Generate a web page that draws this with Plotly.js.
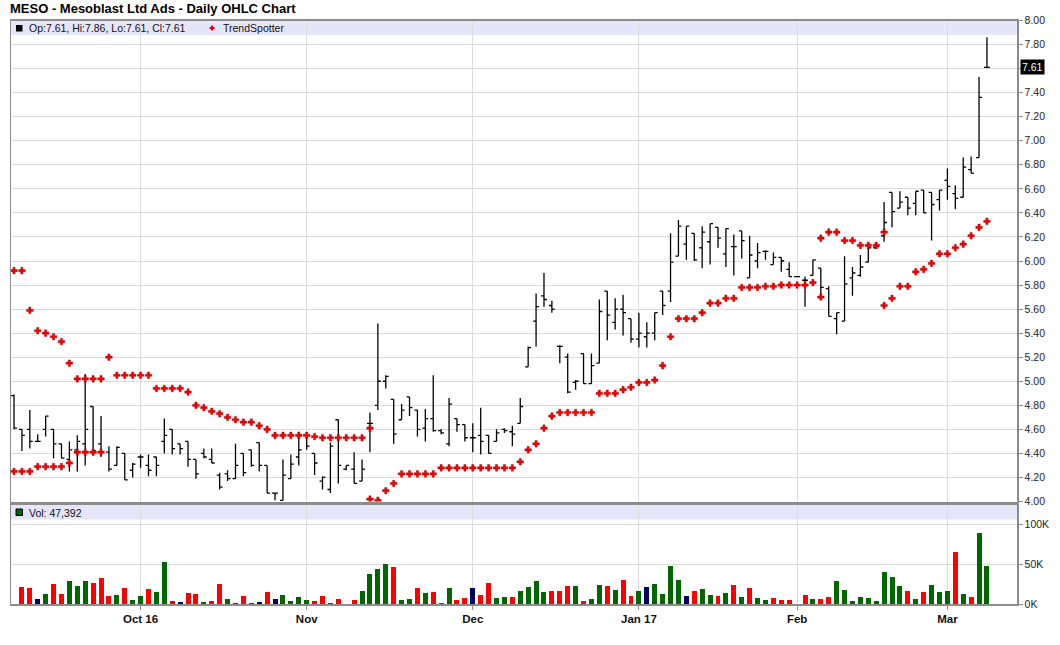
<!DOCTYPE html>
<html><head><meta charset="utf-8">
<script src="https://cdn.plot.ly/plotly-3.0.1.min.js"></script>
<style>html,body{margin:0;padding:0;background:#fff}#chart{width:1060px;height:645px}</style>
</head><body><div id="chart"></div>
<script>
// ---- data (trading-day index 0 = 9 Sep 2016 ... 123 = 8 Mar 2017) ----
const tickIdx = [16, 37, 58, 79, 99, 118];
const tickLabels = ['Oct 16', 'Nov', 'Dec', 'Jan 17', 'Feb', 'Mar'];

const openP = [
4.88,4.60,4.60,4.50,4.60,4.60,4.48,4.35,4.43,4.48,
4.79,4.48,4.41,4.30,4.40,4.26,4.37,4.30,4.37,4.50,
4.60,4.48,4.50,4.35,4.40,4.35,4.22,4.23,4.19,4.40,
4.43,4.49,4.30,4.07,4.01,4.19,4.37,4.55,4.40,4.17,
4.10,4.68,4.27,4.27,4.17,4.65,4.80,5.00,4.85,4.68,
4.87,4.76,4.61,4.69,4.59,4.48,4.69,4.64,4.53,4.55,
4.55,4.50,4.60,4.58,4.65,5.12,5.50,5.71,5.63,5.29,
5.20,4.99,5.23,4.98,5.15,5.75,5.49,5.60,5.52,5.35,
5.37,5.40,5.75,5.75,6.04,6.14,6.23,6.11,6.16,6.28,
6.06,6.12,6.25,5.86,6.00,6.08,5.97,6.03,5.93,5.87,
5.84,5.88,5.94,5.77,5.52,5.50,5.86,5.88,5.99,6.11,
6.21,6.57,6.44,6.53,6.48,6.59,6.57,6.51,6.67,6.56,
6.53,6.76,6.86,7.61];
const highP = [
4.89,4.60,4.76,4.56,4.71,4.60,4.48,4.50,4.55,5.06,
4.79,4.71,4.46,4.46,4.40,4.32,4.39,4.39,4.37,4.69,
4.60,4.48,4.50,4.35,4.44,4.44,4.24,4.26,4.48,4.40,
4.43,4.49,4.30,4.07,4.35,4.39,4.58,4.56,4.40,4.21,
4.49,4.68,4.30,4.41,4.35,4.74,5.48,5.05,4.85,4.81,
4.87,4.76,4.77,5.05,4.60,4.86,4.69,4.64,4.65,4.78,
4.55,4.60,4.61,4.63,4.86,5.29,5.73,5.90,5.67,5.30,
5.23,5.01,5.23,5.23,5.68,5.75,5.69,5.72,5.52,5.57,
5.49,5.57,5.75,6.23,6.34,6.29,6.23,6.29,6.31,6.28,
6.27,6.22,6.25,6.21,6.15,6.09,6.07,6.03,5.99,5.87,
5.87,6.01,5.94,5.79,5.57,6.04,5.95,6.05,6.11,6.15,
6.49,6.57,6.58,6.53,6.58,6.59,6.57,6.59,6.77,6.63,
6.86,6.87,7.53,7.86];
const lowP = [
4.60,4.42,4.44,4.50,4.54,4.36,4.36,4.25,4.25,4.30,
4.40,4.37,4.25,4.30,4.18,4.20,4.28,4.21,4.21,4.40,
4.39,4.39,4.29,4.19,4.36,4.32,4.10,4.17,4.19,4.21,
4.29,4.25,4.07,4.01,4.01,4.19,4.30,4.43,4.22,4.10,
4.07,4.15,4.26,4.15,4.17,4.41,4.76,4.94,4.48,4.68,
4.71,4.54,4.50,4.58,4.56,4.46,4.58,4.50,4.41,4.39,
4.40,4.50,4.57,4.46,4.65,5.12,5.29,5.62,5.57,5.15,
4.90,4.93,4.98,4.98,5.15,5.34,5.43,5.38,5.32,5.28,
5.28,5.34,5.55,5.66,6.04,6.01,6.00,5.94,5.97,6.11,
5.95,5.88,6.02,5.86,5.94,6.01,5.97,5.91,5.87,5.87,
5.62,5.88,5.69,5.54,5.39,5.50,5.71,5.87,5.99,6.10,
6.16,6.28,6.44,6.38,6.38,6.40,6.17,6.42,6.51,6.43,
6.53,6.73,6.86,7.61];
const closeP = [
4.61,4.55,4.50,4.50,4.71,4.48,4.36,4.43,4.50,4.60,
4.42,4.41,4.27,4.45,4.18,4.31,4.37,4.26,4.30,4.55,
4.44,4.44,4.35,4.23,4.37,4.32,4.12,4.19,4.30,4.24,
4.30,4.30,4.07,4.07,4.22,4.31,4.43,4.46,4.32,4.20,
4.46,4.30,4.30,4.15,4.27,4.65,5.00,5.04,4.56,4.76,
4.78,4.60,4.69,4.59,4.57,4.81,4.64,4.53,4.53,4.50,
4.40,4.57,4.59,4.56,4.79,5.28,5.62,5.68,5.60,5.29,
4.91,5.00,4.98,5.13,5.58,5.55,5.60,5.57,5.35,5.40,
5.40,5.57,5.63,5.99,6.29,6.29,6.01,6.24,6.31,6.19,
6.27,6.12,6.17,6.05,6.07,6.08,6.03,6.00,5.87,5.87,
5.84,6.01,5.78,5.54,5.57,5.81,5.90,5.95,6.11,6.12,
6.32,6.41,6.49,6.44,6.58,6.40,6.47,6.59,6.62,6.52,
6.78,6.73,7.36,7.61];
const volume = [
null,20800,19600,6300,12100,25000,12500,28800,22500,28800,
26300,32500,10000,11300,20000,5000,10000,18800,15000,52500,
3800,2500,13800,12500,2500,3800,25000,6300,1300,10000,
1300,2500,15000,6300,11300,3800,8800,5000,3800,10000,
1300,6300,null,5000,16300,37500,43800,50000,46300,5000,
6300,20000,13800,15000,1300,20000,5000,7500,20000,11300,
26300,7500,8800,8800,16300,21300,28800,15000,16300,16300,
22500,22500,3800,6300,23800,22500,17500,30000,10000,16300,
21300,25000,12500,47500,30000,10000,16300,18800,11300,10000,
13800,23800,8800,20000,7500,5000,7500,5000,5000,null,
11300,6300,6300,8800,28800,17500,3800,8800,7500,3800,
40000,33800,22500,16300,6300,15000,23800,15000,16300,65000,
12500,8800,88800,47392];
const tsUpper = [
5.92,5.92,5.59,5.42,5.40,5.37,5.33,5.15,5.02,5.02,
5.02,5.02,5.20,5.05,5.05,5.05,5.05,5.05,4.94,4.94,
4.94,4.94,4.91,4.80,4.78,4.75,4.73,4.70,4.68,4.66,
4.66,4.63,4.60,4.55,4.55,4.55,4.55,4.55,4.54,4.53,
4.53,4.53,4.53,4.53,4.53,4.61,null,null,null,null,
null,null,null,null,null,null,null,null,null,null,
null,null,null,null,null,null,null,null,null,null,
null,null,null,null,null,null,null,null,null,null,
null,null,null,null,null,null,null,null,null,null,
null,null,null,null,null,null,null,null,null,null,
null,null,6.19,6.24,6.24,6.17,6.17,6.13,6.13,6.13,
6.24,null,null,null,null,null,null,null,null,null,
null,null,null,null];
const tsLower = [
4.25,4.25,4.25,4.29,4.29,4.29,4.29,4.32,4.41,4.41,
4.41,4.41,null,null,null,null,null,null,null,null,
null,null,null,null,null,null,null,null,null,null,
null,null,null,null,null,null,null,null,null,null,
null,null,null,null,null,4.02,4.01,4.09,4.15,4.23,
4.23,4.23,4.23,4.23,4.28,4.28,4.28,4.28,4.28,4.28,
4.28,4.28,4.28,4.28,4.33,4.43,4.48,4.61,4.71,4.74,
4.74,4.74,4.74,4.74,4.90,4.90,4.90,4.93,4.95,4.99,
4.99,5.01,5.13,5.37,5.52,5.52,5.52,5.57,5.65,5.65,
5.69,5.69,5.78,5.78,5.78,5.79,5.79,5.80,5.80,5.80,
5.80,5.82,5.70,null,null,null,null,null,null,null,
5.63,5.69,5.79,5.79,5.91,5.93,5.98,6.06,6.06,6.11,
6.14,6.21,6.28,6.33];
const priceTicks = [4.0,4.2,4.4,4.6,4.8,5.0,5.2,5.4,5.6,5.8,6.0,6.2,6.4,6.6,6.8,7.0,7.2,7.4,7.6,7.8,8.0];
const priceTickText = ['4.00','4.20','4.40','4.60','4.80','5.00','5.20','5.40','5.60','5.80','6.00','6.20','6.40','6.60','6.80','7.00','7.20','7.40','','7.80','8.00'];
const volTicks = [0, 50000, 100000];
const volTickText = ['0K', '50K', '100K'];

// ---- derived ----
const n = closeP.length;
const xIdx = closeP.map((_, i) => i);
const GREEN = '#006600', RED = '#ff0000', NAVY = '#000066';
const volColors = closeP.map((c, i) => i === 0 ? GREEN : (c > closeP[i-1] ? GREEN : (c < closeP[i-1] ? RED : NAVY)));

const FONT = '"Liberation Sans", Arial, sans-serif';
const W = 1060, H = 645, ML = 11, MR = 43, MT = 20, MB = 41;
const plotH = H - MT - MB, plotW = W - ML - MR;
const fy = px => (H - MB - px) / plotH;
const fx = px => (px - ML) / plotW;
const GRID = '#dcdcdc', FRAME = '#8c8c8c';
const TSMARK = {symbol: 'cross', size: 5.5, color: '#f00000', line: {color: '#990000', width: 0.4}};

const traces = [
  {type: 'ohlc', x: xIdx, open: openP, high: highP, low: lowP, close: closeP,
   xaxis: 'x', yaxis: 'y', tickwidth: 0.37, hoverinfo: 'skip', showlegend: false,
   increasing: {line: {color: '#000', width: 1.3}}, decreasing: {line: {color: '#000', width: 1.3}}},
  {type: 'scatter', mode: 'markers', x: xIdx, y: tsUpper, xaxis: 'x', yaxis: 'y', showlegend: false, hoverinfo: 'skip', marker: TSMARK},
  {type: 'scatter', mode: 'markers', x: xIdx, y: tsLower, xaxis: 'x', yaxis: 'y', showlegend: false, hoverinfo: 'skip', marker: TSMARK},
  {type: 'bar', x: xIdx, y: volume, xaxis: 'x2', yaxis: 'y2', width: 0.63, showlegend: false, hoverinfo: 'skip',
   marker: {color: volColors, line: {width: 0}}}
];

const xr = [-0.38, 126.8];
const last = n - 1;
const fmtInt = v => Math.round(v).toString().replace(/\B(?=(\d{3})+(?!\d))/g, ',');

const layout = {
  width: W, height: H,
  margin: {l: ML, r: MR, t: MT, b: MB, pad: 0},
  paper_bgcolor: '#fff', plot_bgcolor: 'rgba(0,0,0,0)',
  font: {family: FONT, size: 10.5, color: '#222'},
  showlegend: false, bargap: 0,
  title: {text: '<b>MESO - Mesoblast Ltd Ads - Daily OHLC Chart</b>', x: 10 / W, xanchor: 'left', xref: 'container',
          y: 1 - 8.5 / H, yref: 'container', yanchor: 'middle', font: {family: FONT, size: 13, color: '#000'}},
  xaxis: {domain: [0, 1], range: xr, anchor: 'y', tickvals: tickIdx, showticklabels: false, ticks: '',
          showgrid: true, gridcolor: GRID, gridwidth: 1, zeroline: false,
          showline: true, mirror: true, linecolor: FRAME, linewidth: 1.5, rangeslider: {visible: false}, fixedrange: true},
  yaxis: {domain: [fy(501.5), fy(20.5)], range: [4, 8], anchor: 'x', side: 'right',
          tickvals: priceTicks, ticktext: priceTickText, ticks: 'outside', ticklen: 4, tickcolor: FRAME,
          tickfont: {family: FONT, size: 10.5, color: '#222'},
          showgrid: true, gridcolor: GRID, zeroline: false,
          showline: true, mirror: true, linecolor: FRAME, linewidth: 1.5, fixedrange: true},
  xaxis2: {domain: [0, 1], range: xr, anchor: 'y2', tickvals: tickIdx, ticktext: tickLabels.map(t => '<b>' + t + '</b>'),
           ticks: 'outside', ticklen: 4, tickcolor: FRAME, tickfont: {family: FONT, size: 11.5, color: '#111'},
           showgrid: true, gridcolor: GRID, zeroline: false,
           showline: true, mirror: true, linecolor: FRAME, linewidth: 1.5, fixedrange: true},
  yaxis2: {domain: [0, fy(504.7)], range: [0, 100000 * (604 - 504.7) / (604 - 524.3)], anchor: 'x2', side: 'right',
           tickvals: volTicks, ticktext: volTickText, ticks: 'outside', ticklen: 4, tickcolor: FRAME,
           tickfont: {family: FONT, size: 10.5, color: '#222'},
           showgrid: true, gridcolor: GRID, zeroline: false,
           showline: true, mirror: true, linecolor: FRAME, linewidth: 1.5, fixedrange: true},
  shapes: [
    {type: 'rect', xref: 'paper', yref: 'paper', x0: 0, x1: 1, y0: fy(35), y1: fy(20.5), fillcolor: '#e6e6fa', line: {width: 0}, layer: 'below'},
    {type: 'rect', xref: 'paper', yref: 'paper', x0: 0, x1: 1, y0: fy(519.5), y1: fy(504.7), fillcolor: '#e6e6fa', line: {width: 0}, layer: 'below'},
    {type: 'rect', xref: 'paper', yref: 'paper', x0: fx(16), x1: fx(22.5), y0: fy(31.5), y1: fy(25), fillcolor: '#000', line: {width: 0}},
    {type: 'rect', xref: 'paper', yref: 'paper', x0: fx(209.5), x1: fx(214.5), y0: fy(29), y1: fy(27), fillcolor: '#e8000b', line: {width: 0}},
    {type: 'rect', xref: 'paper', yref: 'paper', x0: fx(211), x1: fx(213), y0: fy(30.5), y1: fy(25.5), fillcolor: '#e8000b', line: {width: 0}},
    {type: 'rect', xref: 'paper', yref: 'paper', x0: fx(16), x1: fx(22.5), y0: fy(515.5), y1: fy(509), fillcolor: GREEN, line: {color: '#000', width: 1}}
  ],
  annotations: [
    {xref: 'paper', yref: 'paper', x: fx(26.5), y: fy(28), xanchor: 'left', yanchor: 'middle', showarrow: false,
     text: 'Op:' + openP[last].toFixed(2) + ', Hi:' + highP[last].toFixed(2) + ', Lo:' + lowP[last].toFixed(2) + ', Cl:' + closeP[last].toFixed(2),
     font: {family: FONT, size: 10.5, color: '#111'}},
    {xref: 'paper', yref: 'paper', x: fx(220.5), y: fy(28), xanchor: 'left', yanchor: 'middle', showarrow: false,
     text: 'TrendSpotter', font: {family: FONT, size: 10.5, color: '#111'}},
    {xref: 'paper', yref: 'paper', x: fx(26.5), y: fy(512.5), xanchor: 'left', yanchor: 'middle', showarrow: false,
     text: 'Vol: ' + fmtInt(volume[last]), font: {family: FONT, size: 10.5, color: '#111'}},
    {xref: 'paper', yref: 'y', x: fx(1020), y: closeP[last], xanchor: 'left', yanchor: 'middle', showarrow: false,
     text: closeP[last].toFixed(2), bgcolor: '#000', borderpad: 1, font: {family: FONT, size: 10.5, color: '#fff'}}
  ]
};

Plotly.newPlot('chart', traces, layout, {displayModeBar: false, staticPlot: true});
</script>
</body></html>
